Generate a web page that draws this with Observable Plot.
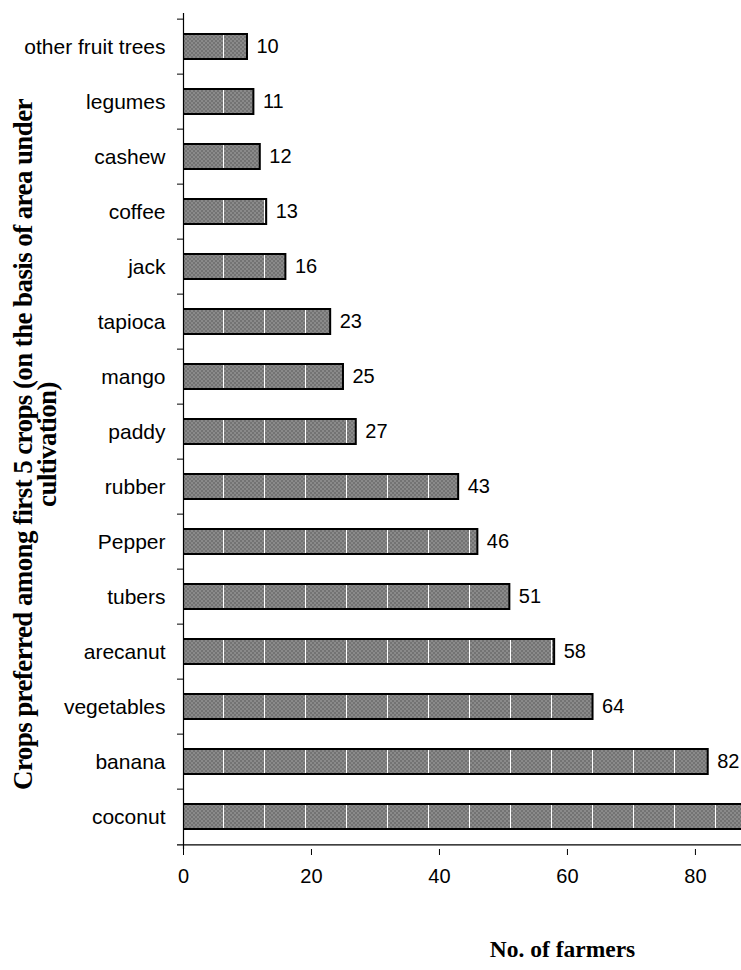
<!DOCTYPE html>
<html>
<head>
<meta charset="utf-8">
<script src="https://cdn.jsdelivr.net/npm/d3@7"></script>
<script src="https://cdn.jsdelivr.net/npm/@observablehq/plot@0.6"></script>
<style>
  body { margin: 0; background: #fff; }
  #chart svg { display: block; }
</style>
</head>
<body>
<svg width="0" height="0" style="position:absolute">
  <defs>
    <pattern id="barpat" patternUnits="userSpaceOnUse" x="183" y="0" width="41" height="4">
      <rect width="41" height="4" fill="#8a8a8a"></rect>
      <rect x="0" y="0" width="2" height="2" fill="#737373"></rect>
      <rect x="2" y="2" width="2" height="2" fill="#737373"></rect>
      <rect x="4" y="0" width="2" height="2" fill="#737373"></rect>
      <rect x="6" y="2" width="2" height="2" fill="#737373"></rect>
      <rect x="8" y="0" width="2" height="2" fill="#737373"></rect>
      <rect x="10" y="2" width="2" height="2" fill="#737373"></rect>
      <rect x="12" y="0" width="2" height="2" fill="#737373"></rect>
      <rect x="14" y="2" width="2" height="2" fill="#737373"></rect>
      <rect x="16" y="0" width="2" height="2" fill="#737373"></rect>
      <rect x="18" y="2" width="2" height="2" fill="#737373"></rect>
      <rect x="20" y="0" width="2" height="2" fill="#737373"></rect>
      <rect x="22" y="2" width="2" height="2" fill="#737373"></rect>
      <rect x="24" y="0" width="2" height="2" fill="#737373"></rect>
      <rect x="26" y="2" width="2" height="2" fill="#737373"></rect>
      <rect x="28" y="0" width="2" height="2" fill="#737373"></rect>
      <rect x="30" y="2" width="2" height="2" fill="#737373"></rect>
      <rect x="32" y="0" width="2" height="2" fill="#737373"></rect>
      <rect x="34" y="2" width="2" height="2" fill="#737373"></rect>
      <rect x="36" y="0" width="2" height="2" fill="#737373"></rect>
      <rect x="38" y="2" width="2" height="2" fill="#737373"></rect>
      <rect x="40" y="0" width="1.5" height="4" fill="#fff"></rect>
    </pattern>
  </defs>
</svg>
<div id="chart"></div>
<script>
const crops = ["other fruit trees", "legumes", "cashew", "coffee", "jack", "tapioca", "mango", "paddy", "rubber", "Pepper", "tubers", "arecanut", "vegetables", "banana", "coconut"];
const farmers = [10, 11, 12, 13, 16, 23, 25, 27, 43, 46, 51, 58, 64, 82, 90];
const xTicks = [0, 20, 40, 60, 80];
const yTitle = "Crops preferred among first 5 crops (on the basis of area under\ncultivation)";
const xTitle = "No. of farmers";

const data = crops.map((c, i) => ({crop: c, n: farmers[i]}));
const halfStep = (970 - 13 - 121) / crops.length / 2;
const serif = "'Liberation Serif', 'Times New Roman', serif";

const chart = Plot.plot({
  width: 741,
  height: 970,
  marginLeft: 183,
  marginRight: 0,
  marginTop: 13,
  marginBottom: 121,
  style: {fontFamily: "'Liberation Sans', Arial, sans-serif", fontSize: "20px", color: "#000", background: "#fff"},
  x: {domain: [0, 87.2]},
  y: {domain: crops, paddingInner: 0.55, paddingOuter: 0.275, align: 0.5},
  marks: [
    Plot.barX(data, {x: "n", y: "crop", fill: "url(#barpat)", stroke: "#000", strokeWidth: 2, clip: true}),
    Plot.text(data, {x: "n", y: "crop", text: d => String(d.n), textAnchor: "start", dx: 9, fontSize: 20, fill: "#000", clip: true}),
    Plot.ruleX([0], {stroke: "#000", strokeWidth: 1.2}),
    Plot.ruleY([crops[crops.length - 1]], {dy: halfStep, stroke: "#000", strokeWidth: 1.2, insetLeft: -6}),
    Plot.axisY({tickSize: 6, tickFormat: () => "", dy: -halfStep, label: null}),
    Plot.axisY({tickSize: 0, tickPadding: 18, fontSize: 21, label: null}),
    Plot.axisX({ticks: xTicks, tickSize: 6, tickPadding: 13, fontSize: 20, label: null}),
    Plot.text([yTitle], {frameAnchor: "left", rotate: -90, dx: -147, dy: 13, fontFamily: serif, fontWeight: "bold", fontSize: 27, lineHeight: 0.86, textAnchor: "middle"}),
    Plot.text([xTitle], {frameAnchor: "bottom", dx: 100, dy: 107, fontFamily: serif, fontWeight: "bold", fontSize: 23.5, textAnchor: "middle"})
  ]
});
d3.select(chart).selectAll("text")
  .filter(function() { return this.textContent.startsWith("Crops"); })
  .style("letter-spacing", "-0.6px");
document.getElementById("chart").appendChild(chart);
</script>
</body>
</html>
